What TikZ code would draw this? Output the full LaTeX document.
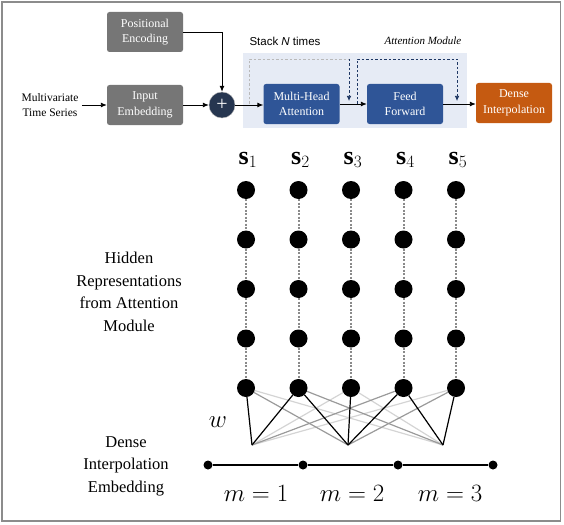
\documentclass[tikz,border=0pt]{standalone}
\usepackage{fontspec}
\setmainfont{Liberation Serif}
\newfontfamily\arialfont{Liberation Sans}
\usetikzlibrary{arrows.meta}
\definecolor{boxgray}{HTML}{767676}
\definecolor{boxblue}{HTML}{2F5597}
\definecolor{navy}{HTML}{1F3864}
\definecolor{boxorange}{HTML}{C55A11}
\definecolor{attnbg}{HTML}{E6EBF5}
\definecolor{plusfill}{HTML}{263650}
\definecolor{framegray}{HTML}{8C8C8C}
\definecolor{wmid}{HTML}{9A9A9A}
\definecolor{wlight}{HTML}{D4D4D4}
\definecolor{dotline}{HTML}{8A8A8A}
\begin{document}
\begin{tikzpicture}[x=1pt,y=-1pt,
  boxbase/.style={rectangle, rounded corners=2.5pt, text=white, minimum width=76pt, minimum height=40pt, align=center, inner sep=0pt, font=\fontsize{12}{15.5}\selectfont},
  graybox/.style={boxbase, fill=boxgray},
  bluebox/.style={boxbase, fill=boxblue},
  orangebox/.style={boxbase, fill=boxorange},
  conn/.style={-{Latex[length=6pt,width=5pt]}, line width=0.9pt, black},
  res/.style={dash pattern=on 2.5pt off 2pt, line width=0.7pt},
  hdot/.style={circle, fill=black, minimum size=18pt, inner sep=0pt},
  sdot/.style={circle, fill=black, minimum size=9pt, inner sep=0pt},
  vlink/.style={dotline, line width=2pt, dash pattern=on 2pt off 1.5pt},
  wblack/.style={black, line width=1.2pt},
  wgray/.style={wmid, line width=1.2pt},
  wlite/.style={wlight, line width=1.2pt},
  bigtext/.style={align=center, font=\fontsize{16.5}{22.5}\selectfont},
  mathlbl/.style={font=\fontsize{24}{28}\selectfont},
  slbl/.style={font=\fontsize{26}{30}\selectfont}
]
\useasboundingbox (0,0) rectangle (564,524);
\draw[framegray, line width=1.6pt] (2,2) rectangle (560.5,521);

% attention module background
\fill[attnbg] (243,53) rectangle (467,128);
\node[font=\arialfont\fontsize{11.5}{14}\selectfont] (stack) at (285,41) {Stack \textit{N} times};
\node[font=\itshape\fontsize{11}{14}\selectfont] (amod) at (423,41) {Attention Module};

% top boxes
\node[align=center, font=\fontsize{11.5}{14.5}\selectfont] (mts) at (50,105) {Multivariate\\Time Series};
\node[graybox] (pe) at (145,32) {Positional\\Encoding};
\node[graybox] (ie) at (145,105) {Input\\Embedding};
\node[circle, fill=plusfill, draw=gray!60, line width=0.4pt, minimum size=26pt, inner sep=0pt, text=white, font=\fontsize{20}{20}\selectfont] (plus) at (222,105) {+};
\node[bluebox] (mha) at (301.5,104) {Multi-Head\\Attention};
\node[bluebox] (ff) at (405,104) {Feed\\Forward};
\node[orangebox] (di) at (514,103) {Dense\\Interpolation};

\draw[conn] (mts.east) -- (ie.west);
\draw[conn] (pe.east) -| (plus.north);
\draw[conn] (ie.east) -- (plus.west);
\draw[conn] (plus.east) -- (plus.east -| mha.west);
\draw[conn] (mha.east) -- (mha.east -| ff.west);
\draw[conn] (ff.east) -- (ff.east -| di.west);

% residual connections
\coordinate (r1s) at (249,104);
\coordinate (r1t) at (349,59);
\coordinate (r1e) at (349,101);
\coordinate (r2s) at (357,104);
\coordinate (r2t) at (457,59);
\coordinate (r2e) at (457,101);
\draw[res, color=gray!55] (r1s) |- (r1t);
\draw[res, color=navy, -{Latex[length=5pt,width=4.5pt]}] (r1t) -- (r1e);
\draw[res, color=navy, -{Latex[length=5pt,width=4.5pt]}] (r2s) |- (r2t) -- (r2e);

% hidden representations grid
\foreach \i/\x in {1/246,2/298.5,3/351,4/403.5,5/456}{
  \node[slbl] (s\i) at (\x+2,160) {$\mathbf{s}_{\i}$};
  \foreach \j/\y in {1/190,2/239.5,3/289,4/338.5,5/388}{
    \node[hdot] (d\i\j) at (\x,\y) {};
  }
  \draw[vlink] (d\i1) -- (d\i2);
  \draw[vlink] (d\i2) -- (d\i3);
  \draw[vlink] (d\i3) -- (d\i4);
  \draw[vlink] (d\i4) -- (d\i5);
}

\node[bigtext] (hid) at (129,292) {Hidden\\Representations\\from Attention\\Module};

% interpolation weights
\coordinate (c1) at (252,445);
\coordinate (c2) at (348,445);
\coordinate (c3) at (443,445);
\draw[wlite] (d15) -- (c3);
\draw[wlite] (d35) -- (c1);
\draw[wlite] (d35) -- (c3);
\draw[wlite] (d55) -- (c1);
\draw[wgray] (d15) -- (c2);
\draw[wgray] (d25) -- (c3);
\draw[wgray] (d45) -- (c1);
\draw[wgray] (d55) -- (c2);
\draw[wblack] (d15) -- (c1);
\draw[wblack] (d25) -- (c1);
\draw[wblack] (d25) -- (c2);
\draw[wblack] (d35) -- (c2);
\draw[wblack] (d45) -- (c2);
\draw[wblack] (d45) -- (c3);
\draw[wblack] (d55) -- (c3);
\node[slbl] (w) at (218,422) {$w$};

% dense interpolation embedding
\node[sdot] (e1) at (208,465) {};
\node[sdot] (e2) at (303,465) {};
\node[sdot] (e3) at (398,465) {};
\node[sdot] (e4) at (493,465) {};
\draw[black, line width=2.4pt] (e1) -- (e2) -- (e3) -- (e4);
\node[mathlbl] (m1) at (256,493) {$m=1$};
\node[mathlbl] (m2) at (352,493) {$m=2$};
\node[mathlbl] (m3) at (450,493) {$m=3$};
\node[bigtext] (die) at (126,466) {Dense\\Interpolation\\Embedding};
\end{tikzpicture}
\end{document}
